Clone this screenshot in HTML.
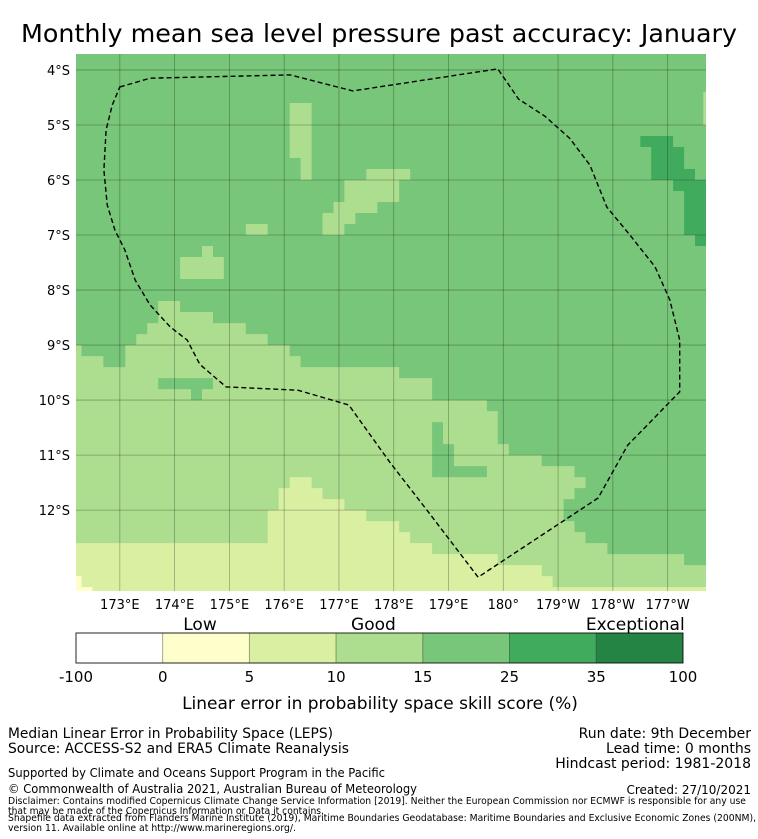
<!DOCTYPE html>
<html><head><meta charset="utf-8">
<style>
html,body{margin:0;padding:0;background:#fff;}
svg{display:block;font-family:"DejaVu Sans","Liberation Sans",sans-serif;}
</style></head>
<body>
<svg id="chart" width="758" height="839" viewBox="0 0 758 839" xmlns="http://www.w3.org/2000/svg">
<text x="379" y="42" font-size="24.5" text-anchor="middle" fill="#000" textLength="716" lengthAdjust="spacingAndGlyphs">Monthly mean sea level pressure past accuracy: January</text>
<defs><clipPath id="mapclip"><rect x="76" y="54" width="630" height="537"/></clipPath></defs>
<g id="map" clip-path="url(#mapclip)"></g>
<g id="axes"></g>
<g id="cbar"></g>
<g fill="#000">
<text x="8" y="738" font-size="14" textLength="325" lengthAdjust="spacingAndGlyphs">Median Linear Error in Probability Space (LEPS)</text>
<text x="8" y="753" font-size="14" textLength="341" lengthAdjust="spacingAndGlyphs">Source: ACCESS-S2 and ERA5 Climate Reanalysis</text>
<text x="8" y="777" font-size="12" textLength="377" lengthAdjust="spacingAndGlyphs">Supported by Climate and Oceans Support Program in the Pacific</text>
<text x="8" y="793" font-size="12" textLength="409" lengthAdjust="spacingAndGlyphs">© Commonwealth of Australia 2021, Australian Bureau of Meteorology</text>
<text x="8" y="804" font-size="9.3" textLength="738" lengthAdjust="spacingAndGlyphs">Disclaimer: Contains modified Copernicus Climate Change Service Information [2019]. Neither the European Commission nor ECMWF is responsible for any use</text>
<text x="8" y="814" font-size="9.3" textLength="316" lengthAdjust="spacingAndGlyphs">that may be made of the Copernicus Information or Data it contains.</text>
<text x="8" y="821" font-size="9.3" textLength="748" lengthAdjust="spacingAndGlyphs">Shapefile data extracted from Flanders Marine Institute (2019), Maritime Boundaries Geodatabase: Maritime Boundaries and Exclusive Economic Zones (200NM),</text>
<text x="8" y="831" font-size="9.3" textLength="288" lengthAdjust="spacingAndGlyphs">version 11. Available online at http://www.marineregions.org/.</text>
<text x="751" y="738" font-size="14" text-anchor="end">Run date: 9th December</text>
<text x="751" y="753" font-size="14" text-anchor="end">Lead time: 0 months</text>
<text x="751" y="768" font-size="14" text-anchor="end">Hindcast period: 1981-2018</text>
<text x="751" y="794" font-size="12" text-anchor="end">Created: 27/10/2021</text>
</g>
</svg>
<script>
// ---- data ----
const lonRange = [172.2, 183.7];
const latRange = [3.71, 13.47]; // degrees south
const categoryColors = ["#ffffff","#ffffcc","#d9f0a3","#addd8e","#78c679","#41ab5d","#238443"];
const backgroundCategory = 4;
// region polygons [lon, latSouth], drawn in order
const regionCats = [3, 4, 4, 2, 1, 1, 3, 3, 3, 3, 3, 3, 3, 3, 3, 5, 5, 5, 5, 5, 5];
const regionPolys = [
 [[172.2,9.0],[172.3,9.0],[172.3,9.2],[172.7,9.2],[172.7,9.4],[173.1,9.4],[173.1,9.0],[173.3,9.0],[173.3,8.8],[173.5,8.8],[173.5,8.6],[173.7,8.6],[173.7,8.2],[174.1,8.2],[174.1,8.4],[174.7,8.4],[174.7,8.6],[175.3,8.6],[175.3,8.8],[175.7,8.8],[175.7,9.0],[176.1,9.0],[176.1,9.2],[176.3,9.2],[176.3,9.4],[178.1,9.4],[178.1,9.6],[178.7,9.6],[178.7,10.0],[179.7,10.0],[179.7,10.2],[179.9,10.2],[179.9,10.8],[180.1,10.8],[180.1,11.0],[180.7,11.0],[180.7,11.2],[181.3,11.2],[181.3,11.4],[181.5,11.4],[181.5,11.6],[181.3,11.6],[181.3,11.8],[181.1,11.8],[181.1,12.2],[181.3,12.2],[181.3,12.4],[181.5,12.4],[181.5,12.6],[181.9,12.6],[181.9,12.8],[183.3,12.8],[183.3,13.0],[183.7,13.0],[183.7,13.5],[172.2,13.5]],
 [[173.7,9.6],[174.7,9.6],[174.7,9.8],[174.5,9.8],[174.5,10.0],[174.3,10.0],[174.3,9.8],[173.7,9.8]],
 [[178.7,10.4],[178.9,10.4],[178.9,10.8],[179.1,10.8],[179.1,11.2],[179.7,11.2],[179.7,11.4],[178.7,11.4]],
 [[172.2,12.6],[175.7,12.6],[175.7,12.0],[175.9,12.0],[175.9,11.6],[176.1,11.6],[176.1,11.4],[176.5,11.4],[176.5,11.6],[176.7,11.6],[176.7,11.8],[177.1,11.8],[177.1,12.0],[177.5,12.0],[177.5,12.2],[178.1,12.2],[178.1,12.4],[178.3,12.4],[178.3,12.6],[178.7,12.6],[178.7,12.8],[179.9,12.8],[179.9,13.0],[180.7,13.0],[180.7,13.2],[180.9,13.2],[180.9,13.4],[183.7,13.4],[183.7,13.5],[172.2,13.5]],
 [[172.2,13.2],[172.3,13.2],[172.3,13.5],[172.2,13.5]],
 [[172.3,13.4],[172.5,13.4],[172.5,13.5],[172.3,13.5]],
 [[176.1,4.6],[176.5,4.6],[176.5,6.0],[176.3,6.0],[176.3,5.6],[176.1,5.6]],
 [[175.3,6.8],[175.7,6.8],[175.7,7.0],[175.3,7.0]],
 [[174.5,7.2],[174.7,7.2],[174.7,7.4],[174.9,7.4],[174.9,7.8],[174.1,7.8],[174.1,7.4],[174.5,7.4]],
 [[177.5,5.8],[178.3,5.8],[178.3,6.0],[177.5,6.0]],
 [[177.1,6.0],[178.1,6.0],[178.1,6.4],[177.1,6.4]],
 [[176.9,6.4],[177.7,6.4],[177.7,6.6],[176.9,6.6]],
 [[176.7,6.6],[177.3,6.6],[177.3,6.8],[176.7,6.8]],
 [[176.7,6.8],[177.1,6.8],[177.1,7.0],[176.7,7.0]],
 [[183.65,4.4],[183.7,4.4],[183.7,5.0],[183.65,5.0]],
 [[182.5,5.2],[183.1,5.2],[183.1,5.4],[182.5,5.4]],
 [[182.7,5.4],[183.3,5.4],[183.3,5.8],[182.7,5.8]],
 [[182.7,5.8],[183.5,5.8],[183.5,6.0],[182.7,6.0]],
 [[183.1,6.0],[183.7,6.0],[183.7,6.2],[183.1,6.2]],
 [[183.3,6.2],[183.7,6.2],[183.7,7.0],[183.3,7.0]],
 [[183.5,7.0],[183.7,7.0],[183.7,7.2],[183.5,7.2]]
];
const boundaryLon = [173.0,173.55,176.11,177.25,179.9,180.28,180.76,181.21,181.58,181.89,182.31,182.77,183.04,183.22,183.22,182.27,181.73,179.54,178.66,177.93,177.18,176.25,174.94,174.46,174.23,173.92,173.55,173.28,173.09,172.91,172.77,172.71,172.75,172.86];
const boundaryLat = [4.31,4.15,4.09,4.38,3.98,4.53,4.84,5.24,5.73,6.49,7.0,7.58,8.18,8.91,9.85,10.82,11.78,13.22,12.07,11.13,10.09,9.82,9.76,9.35,8.91,8.67,8.27,7.82,7.27,6.91,6.45,5.82,5.09,4.64];
const lonTicks = [173,174,175,176,177,178,179,180,181,182,183];
const lonTickLabels = ["173°E","174°E","175°E","176°E","177°E","178°E","179°E","180°","179°W","178°W","177°W"];
const latTicks = [4,5,6,7,8,9,10,11,12];
const latTickLabels = ["4°S","5°S","6°S","7°S","8°S","9°S","10°S","11°S","12°S"];
const cbarBounds = ["-100","0","5","10","15","25","35","100"];
const cbarColors = ["#ffffff","#ffffcc","#d9f0a3","#addd8e","#78c679","#41ab5d","#238443"];
const cbarQualLabels = ["Low","Good","Exceptional"];
const cbarQualPos = [1.43, 3.43, 6.45]; // in colour-band units

// ---- axes ----
const MX0=76, MX1=706, MY0=54, MY1=591;
const xS = lon => MX0 + (lon - lonRange[0]) / (lonRange[1]-lonRange[0]) * (MX1-MX0);
const yS = lat => MY0 + (lat - latRange[0]) / (latRange[1]-latRange[0]) * (MY1-MY0);
const NS="http://www.w3.org/2000/svg";
function mk(tag, attrs, parent){const e=document.createElementNS(NS,tag);for(const k in attrs)e.setAttribute(k,attrs[k]);parent.appendChild(e);return e;}

const map=document.getElementById('map');
const bg=mk('rect',{x:MX0,y:MY0,width:MX1-MX0,height:MY1-MY0,fill:categoryColors[backgroundCategory]},map);


regionPolys.forEach((poly,i)=>{
  const p=mk('polygon',{points:poly.map(q=>xS(q[0]).toFixed(1)+','+yS(q[1]).toFixed(1)).join(' '),fill:categoryColors[regionCats[i]]},map);
  
  
});
// gridlines
lonTicks.forEach(l=>{const g=mk('line',{x1:xS(l),x2:xS(l),y1:MY0,y2:MY1,stroke:'#000','stroke-opacity':0.3,'stroke-width':0.8},map);
  
  });
latTicks.forEach(l=>{const g=mk('line',{x1:MX0,x2:MX1,y1:yS(l),y2:yS(l),stroke:'#000','stroke-opacity':0.3,'stroke-width':0.8},map);
  
  });
// boundary
const bpts=boundaryLon.map((l,i)=>xS(l).toFixed(1)+','+yS(boundaryLat[i]).toFixed(1)).join(' ');
const bd=mk('polygon',{points:bpts,fill:'none',stroke:'#000','stroke-width':1.4,'stroke-dasharray':'5,3'},map);



const axes=document.getElementById('axes');
lonTicks.forEach((l,i)=>{const t=mk('text',{x:xS(l),y:609,'font-size':13,'text-anchor':'middle'},axes);t.textContent=lonTickLabels[i];
  
  });
latTicks.forEach((l,i)=>{const t=mk('text',{x:70,y:yS(l)+5,'font-size':13,'text-anchor':'end'},axes);t.textContent=latTickLabels[i];
  
  });

// colorbar
const cb=document.getElementById('cbar');
const CX0=76, CX1=683, CY0=633, CY1=663, bw=(CX1-CX0)/cbarColors.length;
cbarColors.forEach((c,i)=>{const r=mk('rect',{x:CX0+i*bw,y:CY0,width:bw,height:CY1-CY0,fill:c,stroke:'rgba(0,0,0,0.25)','stroke-width':1},cb);
  
  });
const fr=mk('rect',{x:CX0,y:CY0,width:CX1-CX0,height:CY1-CY0,fill:'none',stroke:'#000','stroke-width':0.8},cb);


cbarBounds.forEach((b,i)=>{const t=mk('text',{x:CX0+i*bw,y:682,'font-size':15,'text-anchor':'middle'},cb);t.textContent=b;
  
  });
cbarQualLabels.forEach((s,i)=>{const t=mk('text',{x:CX0+cbarQualPos[i]*bw,y:630,'font-size':17,'text-anchor':'middle'},cb);t.textContent=s;
  
  });
const ct=mk('text',{x:380,y:709,'font-size':17,'text-anchor':'middle'},cb);
ct.textContent='Linear error in probability space skill score (%)';


</script>
</body></html>
